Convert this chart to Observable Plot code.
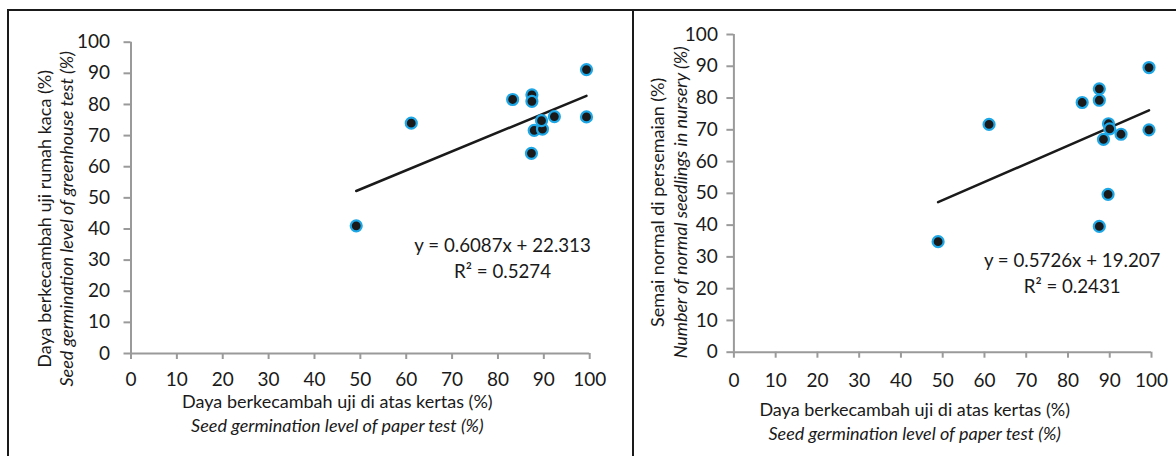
<!DOCTYPE html>
<html>
<head>
<meta charset="utf-8">
<script src="https://cdn.jsdelivr.net/npm/d3@7"></script>
<script src="https://cdn.jsdelivr.net/npm/@observablehq/plot@0.6"></script>
<style>
  html, body { margin: 0; padding: 0; background: #fff; }
  #wrap { position: relative; width: 1176px; height: 456px; overflow: hidden; background: #fff; }
  #left, #right { position: absolute; top: 0; }
  #left { left: 0; }
  #right { left: 632px; }
  .line { position: absolute; background: #1a1a1a; z-index: 5; }
</style>
</head>
<body>
<div id="wrap">
  <div id="left"></div>
  <div id="right"></div>
  <div class="line" style="left:7px; top:9px; right:0; height:2px;"></div>
  <div class="line" style="left:7px; top:9px; bottom:0; width:2px;"></div>
  <div class="line" style="left:632px; top:9px; bottom:0; width:2px;"></div>
</div>
<script>
// ---- data ----
const ticks = [0, 10, 20, 30, 40, 50, 60, 70, 80, 90, 100];

const leftX = [49.1, 61.1, 83.2, 87.4, 87.4, 87.3, 87.9, 89.7, 89.5, 92.3, 99.3, 99.3];
const leftY = [41.0, 74.0, 81.6, 83.1, 81.0, 64.3, 71.7, 72.1, 74.8, 76.1, 91.2, 76.0];
const leftFit = [0.6087, 22.313];   // slope, intercept
const leftEq = ["y = 0.6087x + 22.313", "R² = 0.5274"];
const leftYTitle = ["Daya berkecambah uji rumah kaca (%)", "Seed germination level of greenhouse test (%)"];

const rightX = [48.9, 61.1, 83.4, 87.5, 87.5, 89.7, 90.0, 88.5, 92.7, 99.4, 99.4, 89.6, 87.5];
const rightY = [34.8, 71.7, 78.6, 82.9, 79.3, 71.9, 70.3, 67.0, 68.6, 89.6, 70.0, 49.7, 39.6];
const rightFit = [0.5726, 19.207];
const rightEq = ["y = 0.5726x + 19.207", "R² = 0.2431"];
const rightYTitle = ["Semai normal di persemaian (%)", "Number of normal seedlings in nursery (%)"];

const xTitle = ["Daya berkecambah uji di atas kertas (%)", "Seed germination level of paper test (%)"];

// ---- drawing ----
function panel(o) {
  const pts = o.xs.map((x, i) => ({x, y: o.ys[i]}));
  const x0 = d3.min(o.xs), x1 = d3.max(o.xs);
  const fit = [x0, x1].map(x => ({x, y: o.fit[0] * x + o.fit[1]}));
  return Plot.plot({
    width: o.width, height: 456,
    marginLeft: o.ml, marginRight: o.mr, marginTop: o.mt, marginBottom: o.mb,
    style: {fontFamily: "Lato, 'Open Sans', sans-serif", fontSize: "19px", color: "#1a1a1a", background: "transparent", overflow: "visible"},
    x: {domain: [0, 100], ticks: ticks},
    y: {domain: [0, 100], ticks: ticks},
    marks: [
      Plot.axisX({ticks: ticks, tickSize: 6, tickPadding: o.xPad, stroke: "#9a9a9a", strokeWidth: 2, label: null, fill: "#1a1a1a"}),
      Plot.axisY({ticks: ticks, tickSize: 7, tickPadding: o.yPad, stroke: "#9a9a9a", strokeWidth: 2, label: null, fill: "#1a1a1a"}),
      Plot.ruleY([0], {stroke: "#9a9a9a", strokeWidth: 2}),
      Plot.ruleX([0], {stroke: "#9a9a9a", strokeWidth: 2}),
      Plot.line(fit, {x: "x", y: "y", stroke: "#1a1a1a", strokeWidth: 2.5}),
      Plot.dot(pts, {x: "x", y: "y", r: 5.5, fill: "#1a1a1a", stroke: "#1ea7e6", strokeWidth: 2.2}),
      Plot.text([o.eq.join("\n")], {x: 81, y: o.eqY, text: d => d, fontSize: 18.7, lineHeight: 1.36, fill: "#1a1a1a"}),
      Plot.text([xTitle[0]], {frameAnchor: "bottom", dx: o.xdx, dy: o.xdy1, text: d => d, fontSize: 18, fill: "#1a1a1a"}),
      Plot.text([xTitle[1]], {frameAnchor: "bottom", dx: o.xdx, dy: o.xdy2, text: d => d, fontSize: 18, fontStyle: "italic", fill: "#1a1a1a"}),
      Plot.text([o.yTitle[0]], {frameAnchor: "left", textAnchor: "middle", rotate: -90, dx: o.ydx1, dy: o.ydy, text: d => d, fontSize: 18, fill: "#1a1a1a"}),
      Plot.text([o.yTitle[1]], {frameAnchor: "left", textAnchor: "middle", rotate: -90, dx: o.ydx2, dy: o.ydy, text: d => d, fontSize: 18, fontStyle: "italic", fill: "#1a1a1a"})
    ]
  });
}

document.getElementById("left").append(panel({
  xs: leftX, ys: leftY, fit: leftFit, eq: leftEq, eqY: 31.0, yTitle: leftYTitle,
  width: 632, ml: 130.5, mr: 42.8, mt: 41.7, mb: 103,
  xPad: 13, yPad: 14,
  xdx: -23, xdy1: 54, xdy2: 78,
  ydx1: -86, ydx2: -64, ydy: 21
}));

document.getElementById("right").append(panel({
  xs: rightX, ys: rightY, fit: rightFit, eq: rightEq, eqY: 25.3, yTitle: rightYTitle,
  width: 544, ml: 101.4, mr: 25, mt: 34, mb: 104.3,
  xPad: 15, yPad: 9,
  xdx: -28, xdy1: 64, xdy2: 88,
  ydx1: -76, ydx2: -53, ydy: 9
}));
</script>
</body>
</html>
